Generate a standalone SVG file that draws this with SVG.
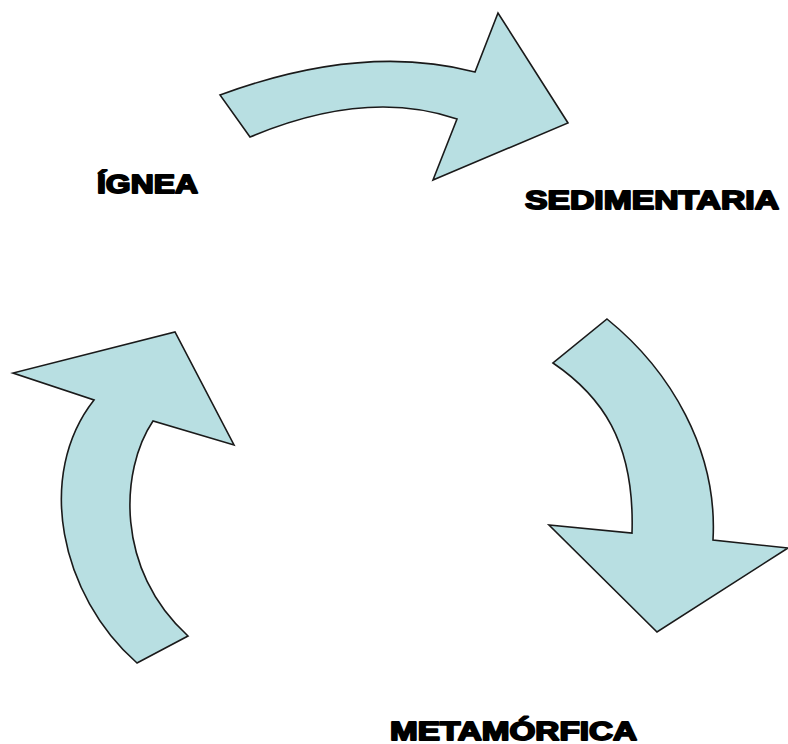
<svg xmlns="http://www.w3.org/2000/svg" width="788" height="744" viewBox="0 0 788 744">
  <style>
    .arrow { fill: #b8dfe2; stroke: #1a1a1a; stroke-width: 1.6; stroke-linejoin: miter; }
    .label { font-family: "Liberation Sans", Arial, sans-serif; font-weight: bold; font-size: 25px; fill: #000; stroke: #000; stroke-width: 1.8; stroke-linejoin: round; }
  </style>
  <rect width="788" height="744" fill="#ffffff"/>
  <g id="connectors">
    <path id="arrow-top" class="arrow" d="M220,95 Q362.5,42.5 475,72 L498,13 L568,123 L433,180 L457,119 Q366.5,88 250,137 Z"/>
    <path id="arrow-right" class="arrow" d="M607,319 C670,370 718,450 713,540 L788,548 L657,632 L549,525 L632,533 C635,440 600,395 553,363 Z"/>
    <path id="arrow-left" class="arrow" d="M137,663 C60,595 35,475 94,400 L13,373 L175,332 L234,445 L153,421 C120,470 115,570 188,636 Z"/>
  </g>
  <g id="node-ignea">
    <text class="label" x="97" y="193" textLength="101" lengthAdjust="spacingAndGlyphs">ÍGNEA</text>
  </g>
  <g id="node-sedimentaria">
    <text class="label" x="525" y="209" textLength="254" lengthAdjust="spacingAndGlyphs">SEDIMENTARIA</text>
  </g>
  <g id="node-metamorfica">
    <text class="label" x="390" y="740" textLength="247" lengthAdjust="spacingAndGlyphs">METAMÓRFICA</text>
  </g>
</svg>
